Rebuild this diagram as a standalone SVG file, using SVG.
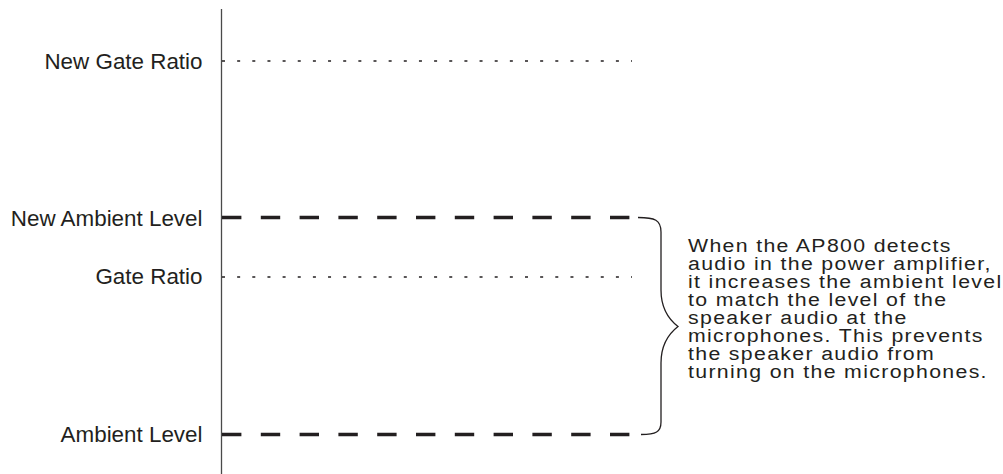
<svg xmlns="http://www.w3.org/2000/svg" width="1003" height="474" viewBox="0 0 1003 474">
  <style>
    .lbl { font-family: "Liberation Sans", Arial, sans-serif; font-size: 22.4px; fill: #231f20; text-anchor: end; }
    .body { font-family: "Liberation Sans", Arial, sans-serif; font-size: 19px; letter-spacing: 1.2px; fill: #231f20; }
    .axis { stroke: #4a4a4a; stroke-width: 1.3; fill: none; }
    .level { stroke: #231f20; stroke-width: 3.6; stroke-dasharray: 19.4 19.4; fill: none; }
    .ratio { stroke: #231f20; stroke-width: 1.6; stroke-dasharray: 3 12.15; fill: none; }
    .brace { stroke: #231f20; stroke-width: 1.3; fill: none; }
  </style>
  <rect width="1003" height="474" fill="#ffffff"/>

  <!-- vertical reference axis -->
  <line class="axis" x1="221.5" y1="9" x2="221.5" y2="474"/>

  <g id="connectors">
    <line class="ratio" x1="222" y1="61" x2="632" y2="61"/>
    <line class="level" x1="222" y1="217.5" x2="631" y2="217.5"/>
    <line class="ratio" x1="222" y1="277" x2="632" y2="277"/>
    <line class="level" x1="222" y1="434.5" x2="631" y2="434.5"/>
  </g>

  <g id="new-gate-ratio"><text class="lbl" x="202.5" y="68.5">New Gate Ratio</text></g>
  <g id="new-ambient-level"><text class="lbl" x="202.5" y="225.5">New Ambient Level</text></g>
  <g id="gate-ratio"><text class="lbl" x="202.5" y="284">Gate Ratio</text></g>
  <g id="ambient-level"><text class="lbl" x="202.5" y="442">Ambient Level</text></g>

  <g id="brace">
    <path class="brace" d="M 638 217.5 C 655 217.5 661 220 661 232 L 661 290 C 661 305 667 318 678 326.5 C 667 335 661 348 661 363 L 661 422 C 661 432 656 434.5 641 434.5"/>
  </g>

  <!-- explanatory note, set wide and tightly leaded -->
  <g id="note" transform="translate(688 0) scale(1.12 1)">
    <text class="body" x="0" y="252">When the AP800 detects</text>
    <text class="body" x="0" y="270">audio in the power amplifier,</text>
    <text class="body" x="0" y="288">it increases the ambient level</text>
    <text class="body" x="0" y="306">to match the level of the</text>
    <text class="body" x="0" y="324">speaker audio at the</text>
    <text class="body" x="0" y="342">microphones. This prevents</text>
    <text class="body" x="0" y="360">the speaker audio from</text>
    <text class="body" x="0" y="378">turning on the microphones.</text>
  </g>
</svg>
